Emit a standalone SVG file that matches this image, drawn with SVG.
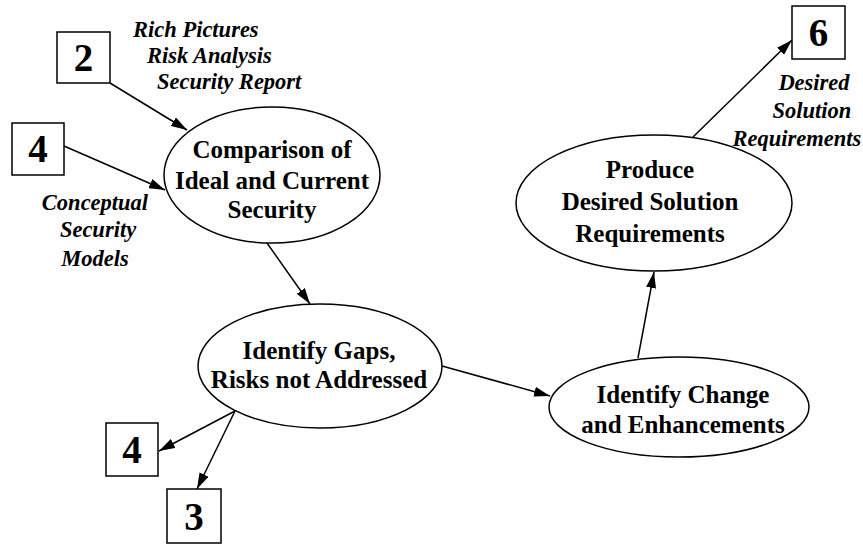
<svg xmlns="http://www.w3.org/2000/svg" width="863" height="547" viewBox="0 0 863 547">
  <style>
    .node { fill: #fff; stroke: #000; stroke-width: 1.5; }
    .box { fill: #fff; stroke: #000; stroke-width: 1.5; }
    .ntext { font-family: 'Liberation Serif', 'Times New Roman', Times, serif; font-weight: 700; font-size: 25px; text-anchor: middle; fill: #000; }
    .digit { font-family: 'Liberation Serif', 'Times New Roman', Times, serif; font-weight: 700; font-size: 39px; text-anchor: middle; fill: #000; }
    .label { font-family: 'Liberation Serif', 'Times New Roman', Times, serif; font-weight: 700; font-style: italic; font-size: 22.5px; fill: #000; }
    .edge { fill: none; stroke: #000; stroke-width: 1.5; marker-end: url(#arrow); }
  </style>
  <defs>
    <marker id="arrow" viewBox="0 0 16 10" refX="16" refY="5" markerWidth="16" markerHeight="10" markerUnits="userSpaceOnUse" orient="auto">
      <path d="M0,0 L16,5 L0,10 Z" fill="#000"/>
    </marker>
  </defs>
  <rect width="863" height="547" fill="#fff"/>

  <!-- connectors -->
  <g id="connectors">
    <line class="edge" x1="110" y1="83" x2="187" y2="130"/>
    <line class="edge" x1="64" y1="146" x2="165" y2="190"/>
    <line class="edge" x1="267" y1="243" x2="310" y2="304"/>
    <line class="edge" x1="442" y1="366" x2="550" y2="396"/>
    <line class="edge" x1="638" y1="358" x2="654" y2="272"/>
    <line class="edge" x1="693" y1="137" x2="792" y2="40"/>
    <line class="edge" x1="235" y1="411" x2="159" y2="451"/>
    <line class="edge" x1="235" y1="411" x2="197" y2="489"/>
  </g>

  <!-- process ellipses -->
  <g id="comparison">
    <ellipse class="node" cx="272" cy="175" rx="108" ry="68"/>
    <text class="ntext" x="272" y="158">Comparison of</text>
    <text class="ntext" x="272" y="189">Ideal and Current</text>
    <text class="ntext" x="272" y="218">Security</text>
  </g>
  <g id="identify-gaps">
    <ellipse class="node" cx="320" cy="366" rx="122" ry="62"/>
    <text class="ntext" x="319" y="359">Identify Gaps,</text>
    <text class="ntext" x="319" y="388">Risks not Addressed</text>
  </g>
  <g id="identify-change">
    <ellipse class="node" cx="679" cy="407" rx="130" ry="50"/>
    <text class="ntext" x="683" y="403">Identify Change</text>
    <text class="ntext" x="683" y="433">and Enhancements</text>
  </g>
  <g id="produce">
    <ellipse class="node" cx="654" cy="203" rx="138" ry="68"/>
    <text class="ntext" x="650" y="178">Produce</text>
    <text class="ntext" x="650" y="210">Desired Solution</text>
    <text class="ntext" x="650" y="242">Requirements</text>
  </g>

  <!-- numbered boxes -->
  <g id="box-2">
    <rect class="box" x="57" y="32" width="53" height="51"/>
    <text class="digit" x="83.5" y="71">2</text>
  </g>
  <g id="box-4-top">
    <rect class="box" x="12" y="123" width="52" height="52"/>
    <text class="digit" x="38" y="162">4</text>
  </g>
  <g id="box-6">
    <rect class="box" x="792" y="6" width="53" height="53"/>
    <text class="digit" x="818.5" y="46">6</text>
  </g>
  <g id="box-4-bottom">
    <rect class="box" x="106" y="423" width="52" height="53"/>
    <text class="digit" x="132" y="463">4</text>
  </g>
  <g id="box-3">
    <rect class="box" x="167" y="489" width="54" height="54"/>
    <text class="digit" x="194" y="530">3</text>
  </g>

  <!-- flow labels -->
  <g id="labels">
    <text class="label" x="133" y="37">Rich Pictures</text>
    <text class="label" x="147" y="63">Risk Analysis</text>
    <text class="label" x="157" y="89">Security Report</text>
    <text class="label" x="95" y="210" text-anchor="middle">Conceptual</text>
    <text class="label" x="98" y="237" text-anchor="middle">Security</text>
    <text class="label" x="95" y="266" text-anchor="middle">Models</text>
    <text class="label" x="814" y="90" text-anchor="middle">Desired</text>
    <text class="label" x="812" y="118" text-anchor="middle">Solution</text>
    <text class="label" x="797" y="146" text-anchor="middle">Requirements</text>
  </g>
</svg>
